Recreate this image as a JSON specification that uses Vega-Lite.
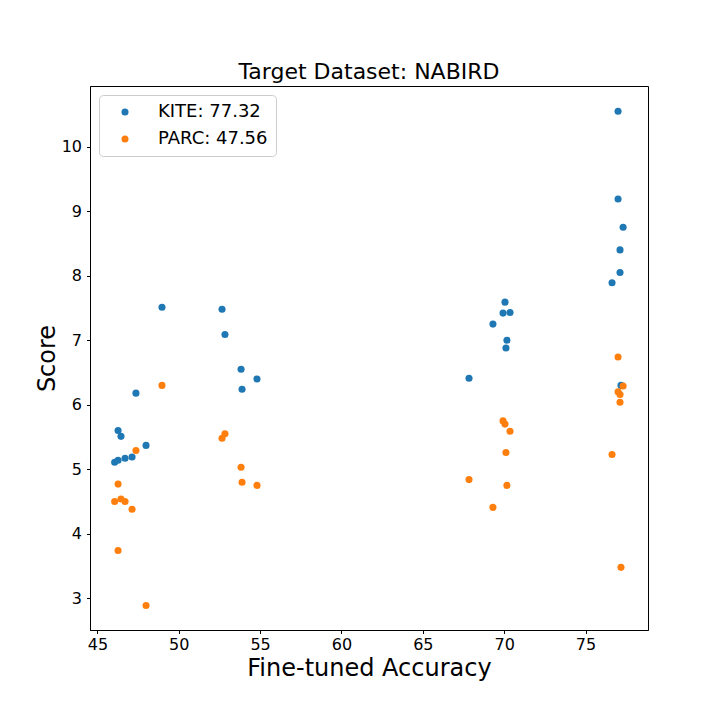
{
  "$schema": "https://vega.github.io/schema/vega-lite/v6.json",
  "autosize": "none",
  "width": 558,
  "height": 544,
  "padding": {"left": 90, "top": 86, "right": 72, "bottom": 90},
  "background": "white",
  "config": {
    "font": "DejaVu Sans",
    "view": {"stroke": "black", "strokeWidth": 1}
  },
  "title": {
    "text": "Target Dataset: NABIRD",
    "font": "DejaVu Sans",
    "fontSize": 22,
    "fontWeight": "normal",
    "color": "black",
    "anchor": "middle",
    "frame": "group",
    "offset": 2
  },
  "data": {
    "values": [
      {"acc": 46.06, "score": 5.11, "method": "KITE: 77.32"},
      {"acc": 46.27, "score": 5.14, "method": "KITE: 77.32"},
      {"acc": 46.27, "score": 5.60, "method": "KITE: 77.32"},
      {"acc": 46.45, "score": 5.51, "method": "KITE: 77.32"},
      {"acc": 46.70, "score": 5.17, "method": "KITE: 77.32"},
      {"acc": 47.13, "score": 5.19, "method": "KITE: 77.32"},
      {"acc": 47.37, "score": 6.18, "method": "KITE: 77.32"},
      {"acc": 47.99, "score": 5.37, "method": "KITE: 77.32"},
      {"acc": 48.97, "score": 7.51, "method": "KITE: 77.32"},
      {"acc": 52.66, "score": 7.48, "method": "KITE: 77.32"},
      {"acc": 52.84, "score": 7.09, "method": "KITE: 77.32"},
      {"acc": 53.83, "score": 6.55, "method": "KITE: 77.32"},
      {"acc": 53.89, "score": 6.24, "method": "KITE: 77.32"},
      {"acc": 54.81, "score": 6.40, "method": "KITE: 77.32"},
      {"acc": 67.84, "score": 6.41, "method": "KITE: 77.32"},
      {"acc": 69.31, "score": 7.25, "method": "KITE: 77.32"},
      {"acc": 69.93, "score": 7.42, "method": "KITE: 77.32"},
      {"acc": 70.05, "score": 7.59, "method": "KITE: 77.32"},
      {"acc": 70.11, "score": 6.88, "method": "KITE: 77.32"},
      {"acc": 70.17, "score": 7.00, "method": "KITE: 77.32"},
      {"acc": 70.36, "score": 7.43, "method": "KITE: 77.32"},
      {"acc": 76.63, "score": 7.89, "method": "KITE: 77.32"},
      {"acc": 77.00, "score": 10.55, "method": "KITE: 77.32"},
      {"acc": 77.00, "score": 9.19, "method": "KITE: 77.32"},
      {"acc": 77.12, "score": 8.40, "method": "KITE: 77.32"},
      {"acc": 77.12, "score": 8.05, "method": "KITE: 77.32"},
      {"acc": 77.18, "score": 6.30, "method": "KITE: 77.32"},
      {"acc": 77.31, "score": 8.75, "method": "KITE: 77.32"},
      {"acc": 46.06, "score": 4.50, "method": "PARC: 47.56"},
      {"acc": 46.27, "score": 4.77, "method": "PARC: 47.56"},
      {"acc": 46.27, "score": 3.74, "method": "PARC: 47.56"},
      {"acc": 46.45, "score": 4.54, "method": "PARC: 47.56"},
      {"acc": 46.70, "score": 4.50, "method": "PARC: 47.56"},
      {"acc": 47.13, "score": 4.38, "method": "PARC: 47.56"},
      {"acc": 47.37, "score": 5.29, "method": "PARC: 47.56"},
      {"acc": 47.99, "score": 2.89, "method": "PARC: 47.56"},
      {"acc": 48.97, "score": 6.30, "method": "PARC: 47.56"},
      {"acc": 52.66, "score": 5.48, "method": "PARC: 47.56"},
      {"acc": 52.84, "score": 5.55, "method": "PARC: 47.56"},
      {"acc": 53.83, "score": 5.03, "method": "PARC: 47.56"},
      {"acc": 53.89, "score": 4.80, "method": "PARC: 47.56"},
      {"acc": 54.81, "score": 4.75, "method": "PARC: 47.56"},
      {"acc": 67.84, "score": 4.84, "method": "PARC: 47.56"},
      {"acc": 69.31, "score": 4.41, "method": "PARC: 47.56"},
      {"acc": 69.93, "score": 5.75, "method": "PARC: 47.56"},
      {"acc": 70.05, "score": 5.70, "method": "PARC: 47.56"},
      {"acc": 70.11, "score": 5.26, "method": "PARC: 47.56"},
      {"acc": 70.17, "score": 4.75, "method": "PARC: 47.56"},
      {"acc": 70.36, "score": 5.59, "method": "PARC: 47.56"},
      {"acc": 76.63, "score": 5.23, "method": "PARC: 47.56"},
      {"acc": 77.00, "score": 6.74, "method": "PARC: 47.56"},
      {"acc": 77.00, "score": 6.20, "method": "PARC: 47.56"},
      {"acc": 77.12, "score": 6.16, "method": "PARC: 47.56"},
      {"acc": 77.12, "score": 6.04, "method": "PARC: 47.56"},
      {"acc": 77.18, "score": 3.48, "method": "PARC: 47.56"},
      {"acc": 77.31, "score": 6.29, "method": "PARC: 47.56"}
    ]
  },
  "mark": {"type": "circle", "size": 50, "opacity": 1},
  "encoding": {
    "x": {
      "field": "acc",
      "type": "quantitative",
      "scale": {"domain": [44.545, 78.84], "nice": false, "zero": false},
      "axis": {
        "title": "Fine-tuned Accuracy",
        "values": [45, 50, 55, 60, 65, 70, 75],
        "grid": false,
        "domainColor": "black",
        "tickColor": "black",
        "tickSize": 3.5,
        "labelFontSize": 16,
        "labelColor": "black",
        "labelPadding": 3,
        "titleFontSize": 24,
        "titleFontWeight": "normal",
        "titleColor": "black",
        "titlePadding": 4
      }
    },
    "y": {
      "field": "score",
      "type": "quantitative",
      "scale": {"domain": [2.509, 10.94], "nice": false, "zero": false},
      "axis": {
        "title": "Score",
        "values": [3, 4, 5, 6, 7, 8, 9, 10],
        "grid": false,
        "domainColor": "black",
        "tickColor": "black",
        "tickSize": 3.5,
        "labelFontSize": 16,
        "labelColor": "black",
        "labelPadding": 5,
        "titleFontSize": 24,
        "titleFontWeight": "normal",
        "titleColor": "black",
        "titlePadding": 2
      }
    },
    "color": {
      "field": "method",
      "type": "nominal",
      "scale": {"domain": ["KITE: 77.32", "PARC: 47.56"], "range": ["#1f77b4", "#ff7f0e"]},
      "legend": {
        "title": null,
        "orient": "none",
        "legendX": 9,
        "legendY": 9,
        "padding": 8,
        "strokeColor": "#cccccc",
        "fillColor": "white",
        "cornerRadius": 4,
        "labelFontSize": 18,
        "labelColor": "black",
        "labelOffset": 24,
        "symbolOffset": 9,
        "symbolSize": 50,
        "symbolType": "circle",
        "rowPadding": 9
      }
    }
  }
}
